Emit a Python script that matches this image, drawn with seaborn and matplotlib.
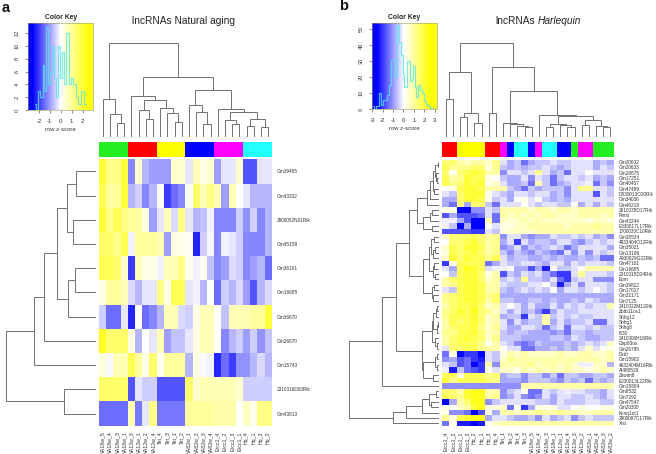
import numpy as np
import matplotlib
matplotlib.use('Agg')
import matplotlib.pyplot as plt
from matplotlib.colors import LinearSegmentedColormap, ListedColormap
import seaborn as sns

W, H = 656, 454

# --- panel a ---
genes_a = ['Gm39465', 'Gm43332', '2900052N01Rik', 'Gm45159', 'Gm36161', 'Gm16685',
           'Gm36670', 'Gm26870', 'Gm15743', '2310016D03Rik', 'Gm43813']
samples_a = ['NA18w_5', 'NA18w_4', 'NA18w_3', 'NA18w_1', 'NA12w_3', 'NA12w_1', 'NA12w_2', 'NA12w_4',
             'Tet_4', 'Tet_3', 'Tet_1', 'Tet_2', 'NA82w_1', 'NA82w_2', 'NA82w_3', 'NA82w_4',
             'Ercc1_4', 'Ercc1_2', 'Ercc1_3', 'Ercc1_1', 'Hq_4', 'Hq_1', 'Hq_3', 'Hq_2']
# levels: -9 full blue, 9 full yellow (z-score = level / 3)
levels_a = [
    [8, 5, 5, 8, -5, 2, -3, -4, -4, -4, 2, 2, -1, 3, 1, 2, -4, -1, -1, 2, -7, -7, -1, -1],
    [7, 4, 4, 8, -3, -2, -5, -3, 0, -8, -6, -5, 0, 6, 3, 5, 3, -4, 3, 0, -1, -3, -3, -3],
    [8, 5, 7, 5, 4, 4, 1, -4, -1, 3, -1.5, 5, -1, -3, -2.5, -0.5, -5, -5, -5, -2, -4.5, -2, -5, -3],
    [6, 6, 5, 7, -0.5, 4, 4, 4, 3, -4, 1, 1, 0.5, -9, -2, -0.3, -5, -0.5, -1, -2, -5, -5, -5, -3],
    [7, 7, 6, 2, -8, 3, 1, 1, -0.5, 3, 3, 5, 0.5, -0.5, 0.5, -2.5, -5, -4, -1.5, -2, -5, -4, -3, -6],
    [1, 4, 4, 3, -1.5, -3, -1, -1, 5, 1, 7, 7, -1, -0.5, -3, 0, -6, -2, -3, -1.5, -4, -7, -3, -1.5],
    [-2, -6, -6, -1, -9, 0, -6, -5, -3, 3, 3, -1.5, -2, 1, 3, 3, 0, -2.5, 3, 3, 3, 4, 4, 8],
    [9, 6, 6, 6, 1, -3, 0, -1, 3, -4, -2.5, -2.5, -1, 1, 3, 3, 0, -5, -3, -2, -4, -2, -4.5, -2.5],
    [1.5, -0.3, 3, 3, 7, 4, 1, 6, 0.5, 4, 4, 4, -3, 1, -0.3, -0.5, -9, -6, -8, -4.5, -4.5, -3, -1.5, -3],
    [6, 6, 6, 6, -7, -1, -2, -2, -7, -7, -7, -7, 6, 2, 3, 3, 3, 3, 3, 2, -2, -2, -2, -2],
    [-6, -6, -6, -6, 3, -5.5, -1, 5, -5.5, -5.5, -5.5, -5.5, 4, 4, 4, 4, 3.5, 3.5, 3.5, 0, 2.5, 0.8, 5, 5],
]
groups_a = [0, 0, 0, 0, 1, 1, 1, 1, 2, 2, 2, 2, 3, 3, 3, 3, 4, 4, 4, 4, 5, 5, 5, 5]
col_tree_a = (283,
              (115, 0, (70, 1, (42, 2, 3))),
              (180,
               (124, 4, (110, (82, 5, (55, 6, 7)), (88, 8, (72, 9, (44, 10, 11))))),
               (140,
                (96, 12, (76, 13, (40, 14, 15))),
                (85, 16, (75, (52, 17, (39, 18, 19)), (55, (34, 20, 21), (31, 22, 23)))))))
row_tree_a = (270,
              (186,
               (155,
                (116,
                 (86, (59, 0, 1), (70, 2, 3)),
                 (84, (64, 4, 5), 6)),
                7),
               8),
              (96, 9, 10))
hist_z_a = [-2.32, -2.15, -1.99, -1.78, -1.56, -1.44, -1.28, -1.07, -0.94, -0.76, -0.55, -0.4, -0.18, 0.0, 0.15, 0.37,
            0.58, 0.89, 0.99, 1.25, 1.5, 1.75, 2.05, 2.3]
hist_n_a = [1, 0, 3, 2, 7, 3, 13, 4, 6, 10, 5, 2, 10, 5, 9, 4, 12, 4, 5, 4, 2, 1, 3, 1]

# --- panel b ---
genes_b = ['Gm20632', 'Gm20633', 'Gm28675', 'Gm17251', 'Gm40457', 'Gm47489', 'D830013O20Rik', 'Gm34030',
           'Gm46218', '2610035D17Rik', 'Rmst', 'Gm43244', 'E330017L17Rik', '1700030C10Rik', 'Gm38534',
           '4933404O12Rik', 'Gm35021', 'Gm13166', 'A930029G22Rik', 'Gm47101', 'Gm16685', '2310015D24Rik',
           'Epm', 'Gm39822', 'Gm17017', 'Gm32171', 'Gm7125', '2410022M11Rik', 'Zbtb11os1', 'Snhg12',
           'Snhg1', 'Snhg8', 'I830', '2410006H16Rik', 'Cep83os', 'Gm26795', 'Dxdr', 'Gm15903',
           '4632404M16Rik', 'AI480526', 'Zswim8', 'E230013L22Rik', 'Gm15884', 'Gm6532', 'Gm7292',
           'Gm47547', 'Gm20300', 'Kcnq1ot1', '2900097C17Rik', 'Xist']
samples_b = ['Ercc1_4', 'Ercc1_2', 'Ercc1_1', 'Ercc1_3', 'Hq_2', 'Hq_1', 'Hq_3', 'Hq_4',
             'Tet_1', 'Tet_2', 'Tet_4', 'Tet_3', 'NA18w_5', 'NA18w_4', 'NA18w_3', 'NA18w_1',
             'NA12w_1', 'NA12w_4', 'NA12w_3', 'NA12w_2', 'NA82w_1', 'NA82w_4', 'NA82w_3', 'NA82w_2']
levels_b = [
    [5, 5, 3, 2, 3, 3, 2, 4, -1, -3, -2, -5, -3, -2, -2, -1, -2, -2, -1, -1, -1, -3, -2, -3],
    [6, 4, 4, 4, 5, 5, 1, 4, -2, -3, -2, -3, -2, -2, -1, -2, -3, -2, -1, -1, -1, -3, -1, -2],
    [5, 0.5, 5, 6, 7, 6, 3, 3, -4, -1, -1, -2, -1, 4, -1, -3, -2, -5, -1, -1, 0, -1, -1, -1],
    [6, 3, 4, 7, 6, 6, 1, 0, -2, -3, -3, -1, -4, -1, -2, -5, -2, -1, -1, -2, -1, -3, -2, -3],
    [6, 4, 5, 7, 6, 7, 0.5, 2, -1, -3, -3, -2, -5, 3, -2, -5, -3, -2, -1, -1, -0.5, -5, -2, -4],
    [0, 1, 6, 7, 7, 6, 3, 3, 3, -2, -3, -5, -2, -3, -2, -2, -2, -4, -1, 4, 4, -1, -1, -2],
    [-1, -2, 5, 7, 7, 7, 0.5, -1, -2, -3, -1, -1, -2, -1, -1, -3, -2, -4, -1, -1, -1, -6, -1, -2],
    [-3, -3, 5, 7, 7, 6, 1, -2, -1, -3, 0, 1, -1, 0.5, -2, -3, -2, -3, -1, -1, -1, -1, -1, -1],
    [-3, -5, 4, -3, 5, 5, -2, -5, -1, -1, -1, 0, -1, -2, -1, -1, -2, -2, 0, -3, -1, -3, -1, -2],
    [1, 1, -9, -9, -4, -4, -1, -2, 3, 3, 3, 3, 2, 3, 3, 2, 3, 3, 2, 3, 3, 3, 3, 3],
    [-6, -3, -6, -6, -6, -5, -1, -5, 3, 2, 3, 2, 3, 2, 3, 3, 2, 2, 2, 3, 3, 3, 2, 3],
    [-0.5, -0.5, -3, -6, -9, -9, 3, -5, 2, 2, 2, 3, 2, 3, 2, 2, 2, 2, 2, 2, 1, 2, 2, 1],
    [-0.5, -2, -9, -3, -9, -9, 0.5, -1, 1, 1, 2, 2, 3, 3, 3, 3, 3, 2, 3, 3, 3, 4, 3, 3],
    [-6, -6, -6, -6, -7, -7, -1, -2, 1, 2, 2, 2, 2, 3, 3, 3, 3, 3, 3, 3, 3, 3, 3, 3],
    [2, 5, 5, 5, 6, 5, 3, 4, -4, -1, -1, -3, -4, -3, -3, -1, -2, -2, -1, -2, -1, -3, -2, -4],
    [0, 5, 5, 6, 7, 5, 3, 4, -3, -1, -7, -1, -3, -2, -2, -3, -1, -1, -3, -4, -2, -1, -2, -1],
    [2, 6, 5, 7, 7, 6, 3, 4, -4, -3, -1, -4, -2, -3, -2, -1, -2, -5, -3, -1, -1, -1, -1, -3],
    [1, 6, 5, 6, 7, 5, 3, 4, -2, -4, -2, -3, -4, -2, -3, -4, -5, -1, -4, -1, -4, -1, -2, -1],
    [2, 7, 5, 7, 6, 6, 4, 6, -1, -3, -2, -2, -3, -3, -2, -3, -2, -3, -3, -2, -3, -2, -5, -5],
    [-7, 1, 6, 6, 6, 6, -5, -3, -1, -2, -2, -1, -1, -2, -3, -1, -1, -3, -1, -2, -1, -1, -1, -2],
    [-1, -3, 6, 8, 7, 6, -1, -0.5, -0.5, 0, -3, -3, -6, -3, -8, 0, -2, -2, -1, 0, 3, 3, 3, 3],
    [0, -2, 6, 7, 7, 5, 1, 3, -6, -2, -3, -1, -2, -1, -3, -5, -7, -7, -1, 4, -1, -1, -1, -2],
    [3, 5, 6, 7, 7, 5, 2, 3, -2, -1, -2, 4, -2, -2, -3, -1, -5, -7, -2, -1, -1, -4, -4, -4],
    [3, 4, 6, 7, 7, 6, 3, 3, -1, -2, -2, -2, -1, -1, 0, -2, -8, -3, -1, -4, -1, -1, -1, -2],
    [-1, -2, 6, 7, 7, 6, 3, 3, -2, -3, -2, -1, -2, -1, -2, 0, -3, -1, -1, -2, -1, 0, -1, -2],
    [4, 5, 6, 7, 7, 6, 4, 5, -3, -3, -3, -3, -3, -3, -3, -3, -3, -3, -3, -3, -3, -3, -3, -3],
    [4, 5, 6, 7, 7, 6, 3, 5, -2, -2, -3, -3, -2, -2, -3, -2, -3, -3, -2, -3, -1, -2, -3, -3],
    [3, 5, 6, 6, 7, 5, 2, 3, -1, 0, -1, -3, -1, -3, -3, -1, -3, -1, -2, -1, -2, -1, -1, 3],
    [4, 5, 7, 6, 8, 5, 4, 2, -1, -3, -1, -3, -2, -4, -7, -3, -1, -2, -2, -1, -1, -1, -1, -1],
    [4, 6, 6, 6, 7, 5, 2, 3, -3, -2, -2, -7, -1, -2, 3, -2, -1, -2, -1, -2, -2, -1, -1, -1],
    [3, 6, 5, 6, 7, 5, 2, 3, -1, -4, -1, -3, -2, -2, 3, -3, -1, -3, -2, -2, -1, -5, -5, -1],
    [3, 5, 6, 6, 7, 4, 2, 4, -1, -3, -3, -1, -1, -2, -5, -2, -1, -5, -1, -1, -2, -1, -2, -2],
    [4, 4, 6, 6, 7, 5, 2, 3, -2, -3, -2, -2, -3, -3, -3, -4, -3, -5, -2, -2, -3, -2, -2, -2],
    [3, 5, 6, 7, 6, 5, 2, 4, -2, -2, -2, -3, -3, -3, -3, -2, -2, -3, -1, -2, -3, -3, -2, -2],
    [3, 5, 6, 6, 6, 4, 0.5, 3, -1, -2, -4, -5, -4, -2, -3, -3, -3, -2, -3, -2, -1, -2, -1, 2],
    [-1, 5, 5, 6, 6, 4, 3, 3, 0, -1, -1, -5, -5, -3, -3, -2, -3, -2, -3, -1, 2, -1, 0.5, 1],
    [-5, 1, -9, -7, -7, -9, -1, -2, 1, 3, 2, 3, 2, 2, 2, 2, 3, 2, 2, 3, 3, 2, 2, 3],
    [-4, -3, -6, -5, -7, -8, -1, -2, 2, 4, 3, 3, 3, 3, 3, 3, 3, 3, 3, 3, 3, 3, 2, 3],
    [-1, -2, -6, -5, -9, -7, 3, -4, 3, 3, 3, 3, 4, 2, 3, 3, 2, 3, 2, -0.5, -0.5, 2, 2, -2.5],
    [-0.5, -8, -2, -5, -6, -7, 0.5, -1, 2, 2, 1, 3, 2, 3, 2, 3, 2, 3, 2, 2, 1, 2, 3, 2],
    [6, 6, 1, 6, 6, 6, 4, 5, -3, -2, -2, -4, -2, -2, -4, -2, -5, -2, -2, -3, -3, -2, -2, -3],
    [7, 4, 6, 6, 6, 6, 5, 4, -3, -3, -3, -4, -2, -2, -2, -3, -4, -2, -3, -2, -5, -2, -3, -2],
    [-4, -4, -4, -4, -4, -4, -4, -4, -4, -4, -4, 3, 3, 3, 3, 3, 3, 3, 3, 3, 3, 3, 3, 3],
    [5, 5, 3, 7, 8, 8, 3, 3, -4, -2, -1, 0, -5, -5, -1, -2, -1, -0.5, -1, -1, -2, -2, -3, -1],
    [6, 5, 4, 7, 8, 8, 3, 4, -4, -3, -1, -4, -5, -4, -1, -3, -1, -1, -2, -2, -1, -2, -3, -1],
    [-9, -3, 3, 5, 8, 8, -4, -2, -1, -1, -1, -1, -1, -2, -2, -3, -1, -2, -2, -2, -1, -1, -2, -2],
    [1, 0, 2, 3, 7, 8, 1, 1, 2, -5, 0, -7, -3, 1, 1, 1, -1, -1, 0, 1, 0, 0, 1, 1],
    [1, -4, -4, -5, -9, -6, 1, -3, 3, 3, 2, 3, 3, 4, 3, 3, 4, 3, 3, 2, 2, 3, 3, 3],
    [4, 1, 6, 7, 8, 8, -3, -1, -1, -2, -3, -3, -2, -4, -1, -3, -2, -1, -4, -2, -1, -2, -2, -2],
    [-5, 1, -8, -8, -9, -8, 0.5, 2, 3, 3, 3, 3, 3, 3, 3, 3, 3, 3, 3, 3, 3, 3, 3, 3],
]
groups_b = [1, 1, 2, 2, 2, 2, 1, 1, 4, 3, 5, 5, 3, 4, 5, 5, 3, 3, 0, 4, 4, 0, 0, 0]
col_tree_b = (283,
              (195, (115, 0, 1), (73, (60, 2, 3), (43, 4, 5))),
              (210,
               (73, 6, 7),
               (137,
                (43, 8, (38, 9, (32, 10, (29, 11, 12)))),
                (65, 13,
                 (62,
                  (39, (29, 14, 15), (36, 16, (31, 17, 18))),
                  (50, (37, 19, 20), (34, 21, (30, 22, 23))))))))
row_tree_b = (270,
              (173,
               (131,
                (90,
                 (66,
                  (38, (28, (18, (13, (3, 0, 1), (10, 2, (6, 3, 4))), (16, 5, 6)), 7), 8),
                  (50, (28, (23, 9, 10), 11), (22, 12, 13))),
                 (48,
                  (30, (25, (15, 14, 15), (18, (12, 16, 17), 18)), (20, (16, 19, 20), (13, 21, 22))),
                  (23, (16, 23, 24), (18, 25, 26)))),
                (53,
                 (23, (20, (10, (6, 27, 28), 29), (8, (4, 30, 31), 32)), (14, 33, (8, 34, 35))),
                 (48, (13, (6, 36, 37), (8, 38, 39)), (18, 40, 41)))),
               42),
              (139,
               (101, (53, (30, (10, 43, 44), (25, 45, 46)), 47), 48),
               49))
hist_z_b = [-2.9, -2.7, -2.5, -2.3, -2.1, -1.9, -1.7, -1.5, -1.3, -1.05, -0.85, -0.7, -0.55, -0.35, -0.15, 0.0, 0.15,
            0.5, 0.7, 0.85, 1.0, 1.15, 1.3, 1.5, 1.7, 1.9, 2.1, 2.3, 2.5, 2.7, 3.0]
hist_n_b = [2, 0, 2, 10, 3, 6, 6, 9, 15, 31, 28, 20, 53, 42, 34, 22, 14, 30, 18, 20, 27, 14, 8, 15, 12, 10, 5, 3, 2, 1, 0]

group_colors = ['#22EE22', '#FF0000', '#FFFF00', '#0000FF', '#FF00FF', '#22FFFF']
blue_yellow = LinearSegmentedColormap.from_list('by', ['#0000FF', '#FFFFFF', '#FFFF00'])
line_col = '#707070'

sns.set_theme(style='white')
plt.rcParams['font.family'] = ['Liberation Sans', 'DejaVu Sans']
plt.rcParams['axes.unicode_minus'] = False

fig = plt.figure(figsize=(W / 100, H / 100), dpi=100)


def box(x0, y0, x1, y1):
    return fig.add_axes([x0 / W, 1 - y1 / H, (x1 - x0) / W, (y1 - y0) / H])


def draw_tree(ax, node, horizontal):
    # node is a leaf index or (height, left, right)
    if not isinstance(node, tuple):
        return node, 0
    h, left, right = node
    p1, h1 = draw_tree(ax, left, horizontal)
    p2, h2 = draw_tree(ax, right, horizontal)
    a, b = [p1, p1, p2, p2], [h1, h, h, h2]
    if horizontal:
        ax.plot(b, a, color=line_col, lw=0.7, solid_joinstyle='miter')
    else:
        ax.plot(a, b, color=line_col, lw=0.7, solid_joinstyle='miter')
    return (p1 + p2) / 2, h


def panel(levels, genes, samples, groups, col_tree, row_tree, hist_z, hist_n, geo):
    n_rows, n_cols = len(genes), len(samples)
    hx0, hx1, hy0, hy1 = geo['heat']
    ax = box(hx0, hy0, hx1, hy1)
    sns.heatmap(np.array(levels), ax=ax, cmap=blue_yellow, vmin=-geo['vmax'], vmax=geo['vmax'], cbar=False,
                xticklabels=samples, yticklabels=genes)
    ax.yaxis.tick_right()
    ax.tick_params(axis='y', length=0, pad=3.5)
    ax.tick_params(axis='x', length=0, pad=4)
    ax.set_yticklabels(genes, rotation=0, fontsize=3.4, color='#333333')
    ax.set_xticklabels(samples, rotation=90, fontsize=3.8, color='#333333')

    strip = box(hx0, 142, hx1, 157)
    sns.heatmap(np.array([groups]), ax=strip, cmap=ListedColormap(group_colors), vmin=-0.5, vmax=5.5,
                cbar=False, xticklabels=False, yticklabels=False)

    top = box(hx0, 137 - 291 / 3, hx1, 137)
    draw_tree(top, col_tree, False)
    top.set_xlim(-0.5, n_cols - 0.5)
    top.set_ylim(0, 291)
    top.axis('off')

    left = box(hx0 - 3 - 90 - geo['side'], hy0, hx0 - 3, hy1)
    draw_tree(left, row_tree, True)
    left.set_xlim(3 * (90 + geo['side']), 0)
    left.set_ylim(n_rows - 0.5, -0.5)
    left.axis('off')

    kx0, kx1, ky0, ky1 = geo['key']
    key = box(kx0, ky0, kx1, ky1)
    zlo, zhi = geo['zlim']
    key.imshow(np.linspace(zlo, zhi, 256)[None, :], aspect='auto', cmap=blue_yellow, vmin=-2.6, vmax=2.6,
               extent=(zlo, zhi, 0, geo['ymax']), origin='lower')
    sns.lineplot(x=hist_z, y=hist_n, ax=key, drawstyle='steps-mid', color='#55E5EE', lw=0.9, alpha=0.75,
                 estimator=None, sort=False)
    key.set_xlim(zlo, zhi)
    key.set_ylim(0, geo['ymax'])
    key.set_xticks(geo['xticks'])
    key.set_yticks(geo['yticks'])
    key.tick_params(axis='x', labelsize=4.4, length=2.5, width=0.4, pad=4, colors='#333333', bottom=True)
    key.tick_params(axis='y', labelsize=4, length=2.5, width=0.4, pad=3.5, colors='#333333', left=True,
                    labelrotation=90)
    for lab in key.get_yticklabels():
        lab.set_va('center')
    for s in key.spines.values():
        s.set_linewidth(0.4)
        s.set_color('#999966')
    key.set_xlabel('row z-score', fontsize=4.2, labelpad=2, color='#333333')
    key.set_title('Color Key', fontsize=4.9, fontweight='bold', pad=3, color='#222222')


geo_a = dict(heat=(99, 271.7, 159.3, 425.7), side=3, vmax=10.5,
             key=(28.3, 93, 23.3, 110), zlim=(-2.98, 2.96), ymax=13.55,
             xticks=[-2, -1, 0, 1, 2], yticks=[0, 2, 4, 6, 8, 10, 12])
geo_b = dict(heat=(442.3, 614, 159.5, 426), side=0, vmax=9,
             key=(371.7, 436.7, 23, 109.3), zlim=(-3.06, 3.2), ymax=54,
             xticks=[-3, -2, -1, 0, 1, 2, 3], yticks=[0, 10, 20, 30, 40, 50])

panel(levels_a, genes_a, samples_a, groups_a, col_tree_a, row_tree_a, hist_z_a, hist_n_a, geo_a)
panel(levels_b, genes_b, samples_b, groups_b, col_tree_b, row_tree_b, hist_z_b, hist_n_b, geo_b)

fig.text(1.5 / W, 1 - 7.5 / H, 'a', fontsize=10.5, fontweight='bold', va='center', color='#111111')
fig.text(339 / W, 1 - 6.5 / H, 'b', fontsize=10.5, fontweight='bold', va='center', color='#111111')
fig.text(183.5 / W, 1 - 21 / H, 'lncRNAs Natural aging', fontsize=7.3, ha='center', va='center', color='#222222')
fig.text(495.3 / W, 1 - 21 / H, 'lncRNAs', fontsize=7.3, ha='left', va='center', color='#222222')
fig.text(537.3 / W, 1 - 21 / H, 'Harlequin', fontsize=7.3, style='italic', ha='left', va='center', color='#222222')

fig.savefig('out.png', dpi=100)
plt.close(fig)
